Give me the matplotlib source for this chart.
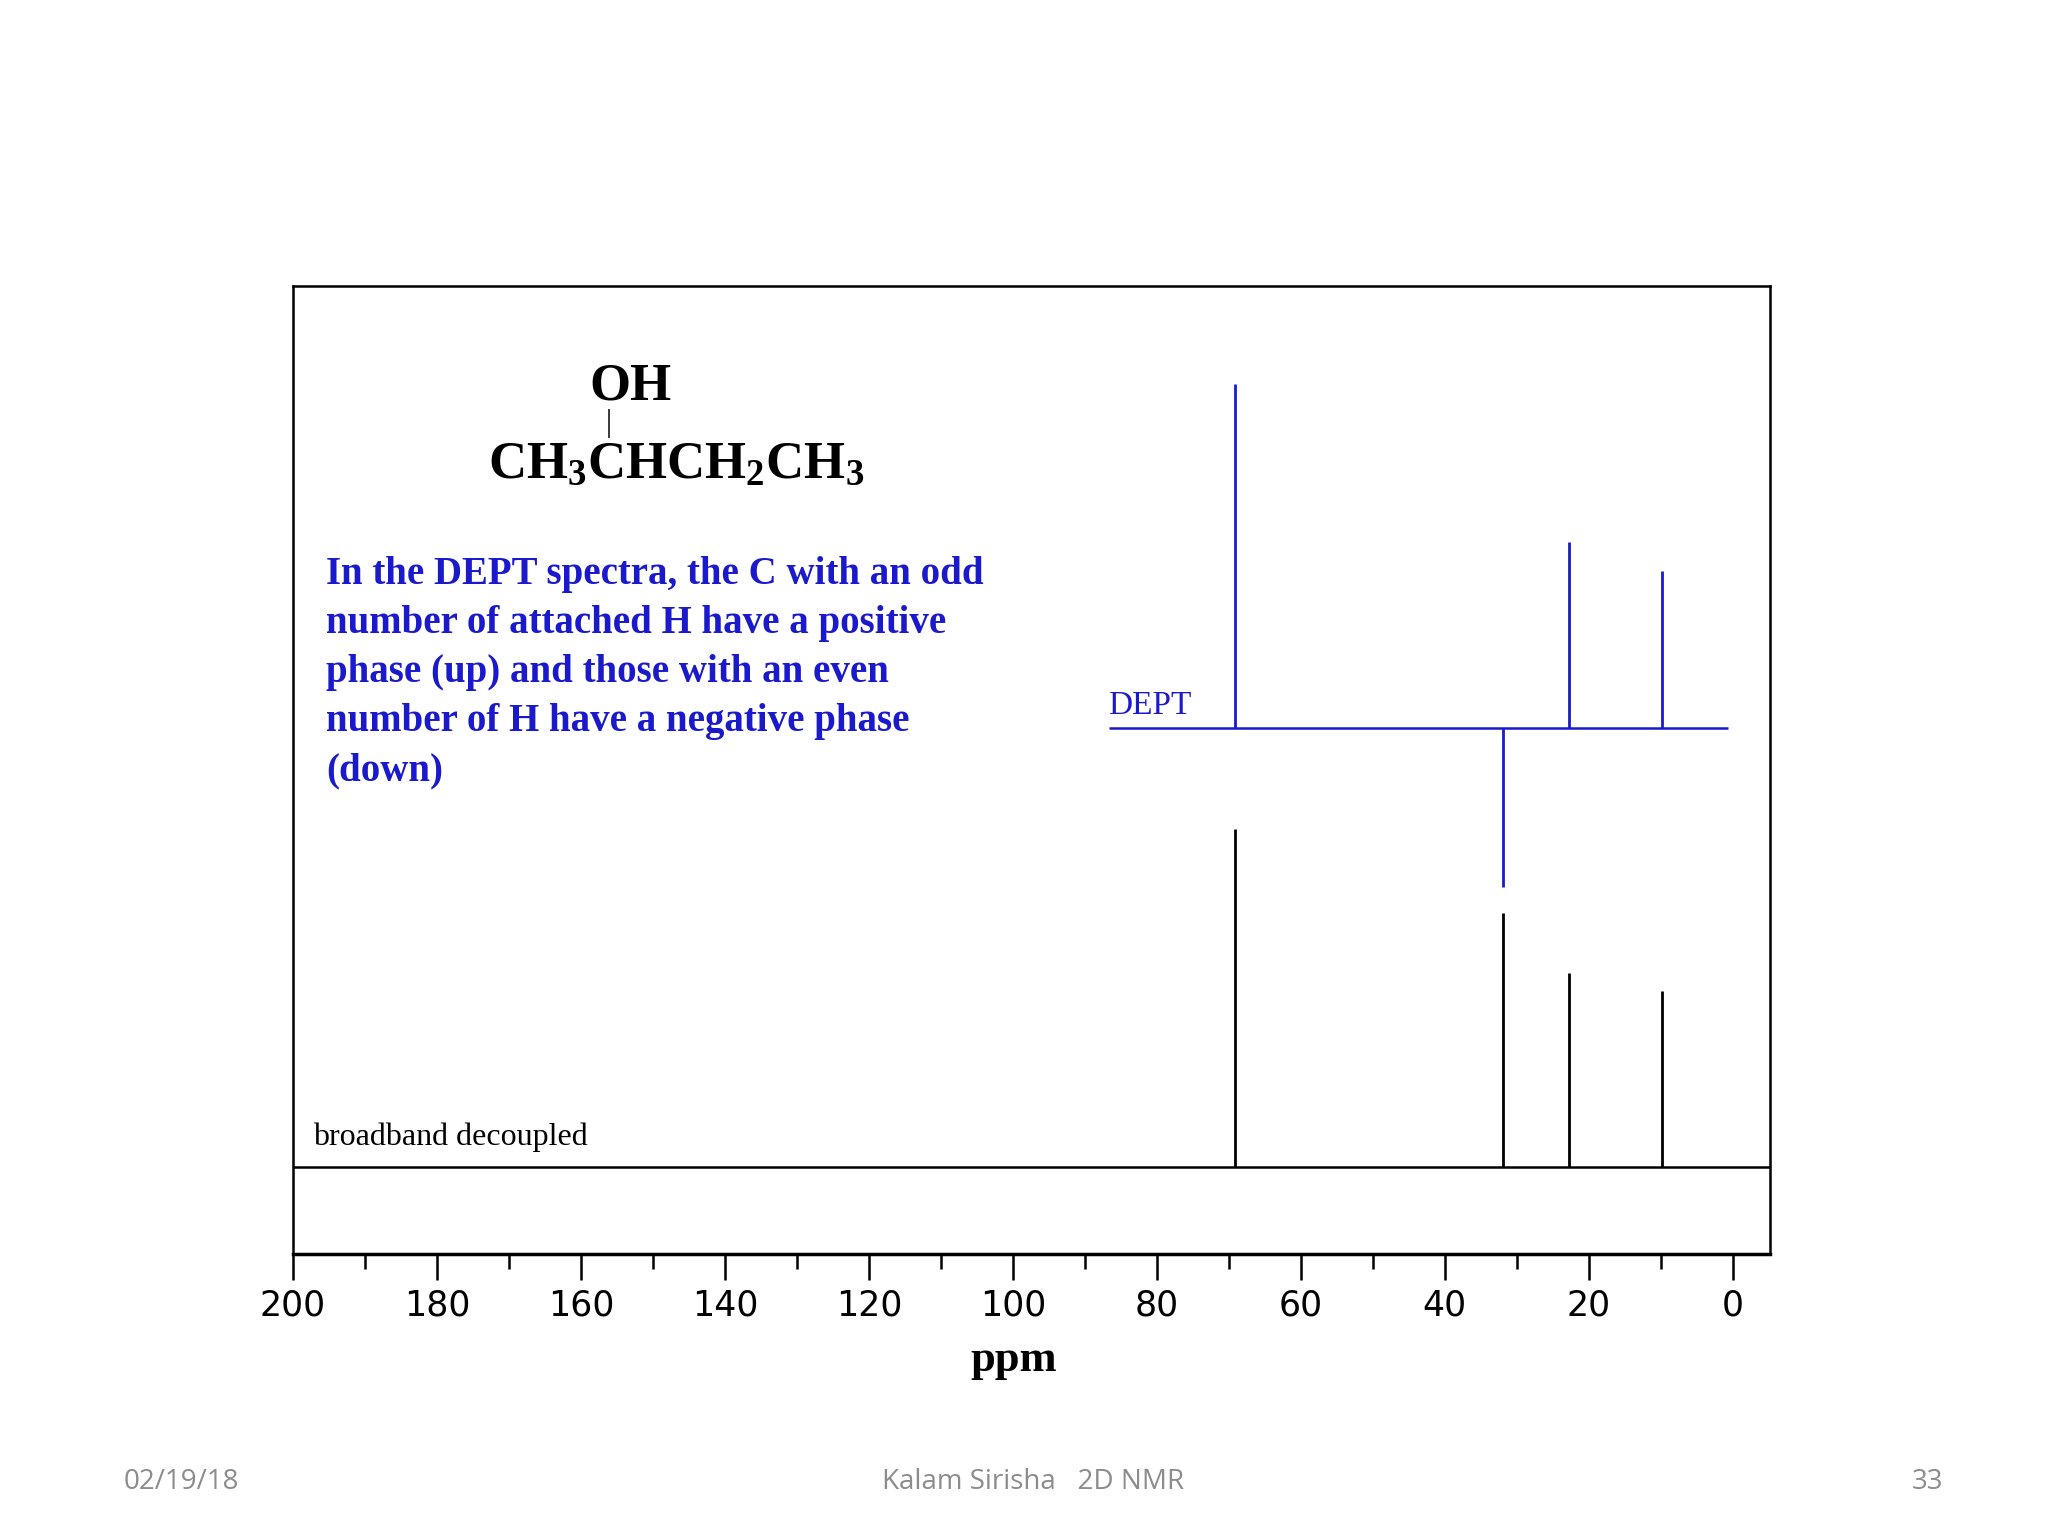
import matplotlib
matplotlib.use("Agg")
import matplotlib.pyplot as plt
import numpy as np

# --- peak data (ppm, relative intensity) ---
peak_ppm = [69.1, 31.9, 22.7, 9.9]
broadband_height = [256, 192, 147, 133]
dept_height = [261, -120, 141, 119]

broadband_base = 66
dept_base = 398
dept_range = (86.7, 0.7)

xticks_major = list(range(200, -1, -20))
xticks_minor = list(range(190, 0, -20))

plt.rcParams['mathtext.fontset'] = 'custom'
plt.rcParams['mathtext.rm'] = 'Liberation Serif:bold'
plt.rcParams['mathtext.it'] = 'Liberation Serif:bold'

W, H = 1552, 1164
fig = plt.figure(figsize=(20.48, 15.36), dpi=100)
ax = fig.add_axes([222 / W, 1 - 950 / H, (1341 - 222) / W, (950 - 217) / H])
ax.set_xlim(200, -5.1)
ax.set_ylim(0, 733)

# broadband spectrum
ax.axhline(broadband_base, color='black', lw=1.8)
ax.vlines(peak_ppm, broadband_base, [broadband_base + h for h in broadband_height],
          color='black', lw=2)

# DEPT spectrum
blue = '#1a1acc'
ax.hlines(dept_base, dept_range[0], dept_range[1], color=blue, lw=1.8)
ax.vlines(peak_ppm, dept_base, [dept_base + h for h in dept_height], color=blue, lw=2)

ax.set_yticks([])
ax.set_xticks(xticks_major)
ax.set_xticks(xticks_minor, minor=True)
ax.set_xticklabels([str(t) for t in xticks_major])
ax.tick_params(axis='x', which='major', direction='out', length=19, width=1.8,
               labelsize=25, pad=6)
ax.tick_params(axis='x', which='minor', direction='out', length=11, width=1.8)
for s in ax.spines.values():
    s.set_linewidth(1.8)
ax.spines['bottom'].set_visible(False)
ax.axhline(0, color='black', lw=2.5, clip_on=False)

def fx(x):
    return x / W

def fy(y):
    return 1 - y / H

fig.text(fx(447), fy(293), 'OH', fontfamily='Liberation Serif', fontweight='bold',
         fontsize=38, va='center', ha='left')
fig.text(fx(461), fy(321), '|', fontfamily='Liberation Serif', fontsize=22,
         va='center', ha='center')
fig.text(fx(370), fy(352), r'CH$_3$CHCH$_2$CH$_3$', fontfamily='Liberation Serif',
         fontweight='bold', fontsize=38, va='center', ha='left')

para = ["In the DEPT spectra, the C with an odd",
        "number of attached H have a positive",
        "phase (up) and those with an even",
        "number of H have a negative phase",
        "(down)"]
for i, line in enumerate(para):
    fig.text(fx(247), fy(435 + 37.3 * i), line, fontfamily='Liberation Serif',
             fontweight='bold', fontsize=28, color=blue, va='center', ha='left')

fig.text(fx(840), fy(535), 'DEPT', fontfamily='Liberation Serif', fontsize=24,
         color=blue, va='center', ha='left')
fig.text(fx(237), fy(862), 'broadband decoupled', fontfamily='Liberation Serif',
         fontsize=23, va='center', ha='left')
fig.text(fx(768), fy(1031), 'ppm', fontfamily='Liberation Serif', fontweight='bold',
         fontsize=32, va='center', ha='center')

grey = '#8c8c8c'
fig.text(fx(94), fy(1123), '02/19/18', fontfamily='Open Sans', fontsize=20,
         color=grey, va='center', ha='left')
fig.text(fx(783), fy(1123), 'Kalam Sirisha   2D NMR', fontfamily='Open Sans',
         fontsize=20, color=grey, va='center', ha='center')
fig.text(fx(1473), fy(1123), '33', fontfamily='Open Sans', fontsize=20,
         color=grey, va='center', ha='right')

fig.savefig('out.png', dpi=100)
